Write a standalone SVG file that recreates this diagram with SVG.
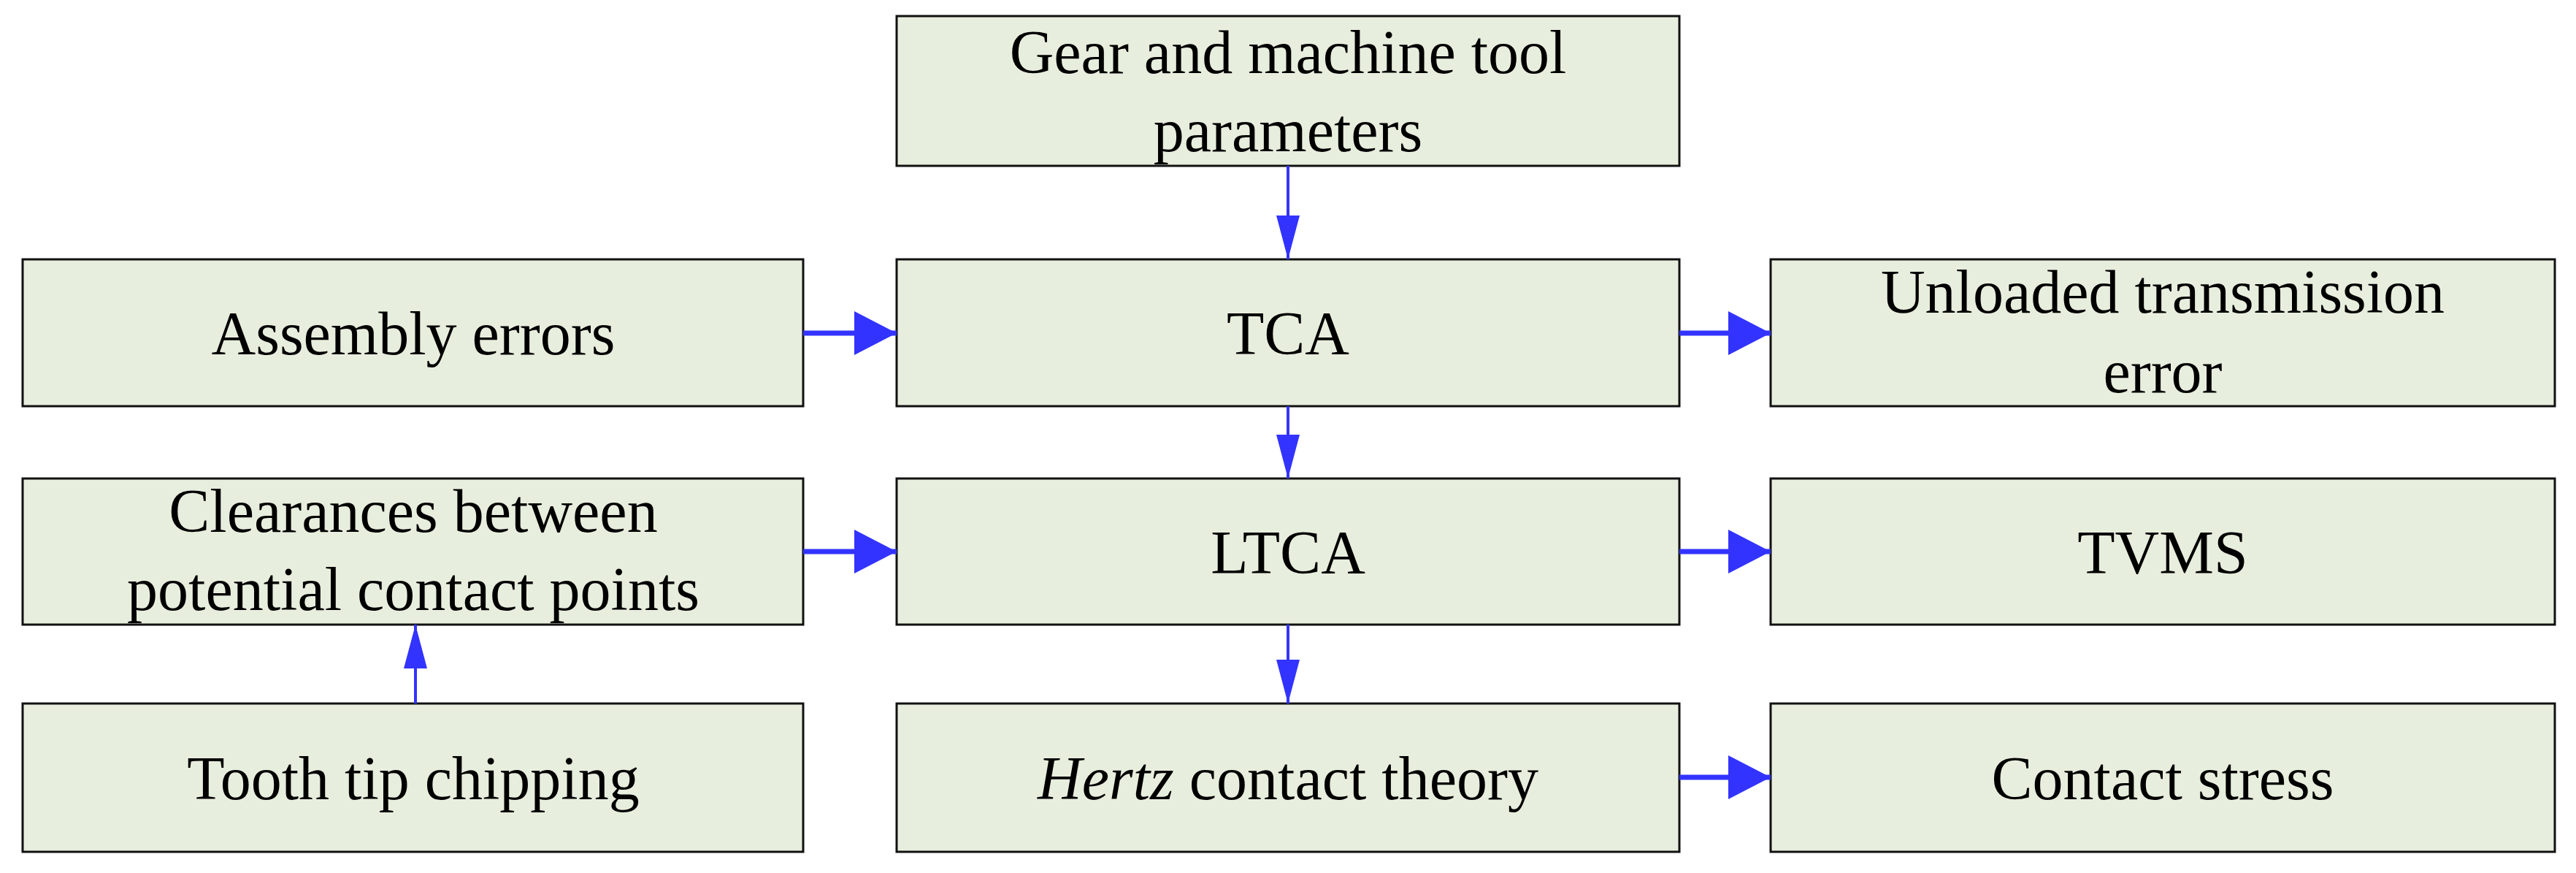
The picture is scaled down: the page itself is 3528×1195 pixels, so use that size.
<svg xmlns="http://www.w3.org/2000/svg" width="3528" height="1195" viewBox="0 0 3528 1195">
<style>
rect{fill:#e8eedd;stroke:#111;stroke-width:3}
text{font-family:"Liberation Serif","Times New Roman",serif;font-size:84px;text-anchor:middle;fill:#000}
.c line{stroke:#3333ff}
.h{stroke-width:7}
.v{stroke-width:4}
</style>
<defs>
<marker id="ah" markerWidth="60" markerHeight="60" refX="58" refY="30" orient="auto" markerUnits="userSpaceOnUse"><path d="M0,0 L58,30 L0,60 Z" fill="#3333ff"/></marker>
<marker id="av" markerWidth="60" markerHeight="36" refX="60" refY="18" orient="auto" markerUnits="userSpaceOnUse"><path d="M0,2 L60,18 L0,34 Z" fill="#3333ff"/></marker>
</defs>
<g id="n1"><rect x="1228" y="22" width="1072" height="205"/><text x="1764" y="100">Gear and machine tool</text><text x="1764" y="207">parameters</text></g>
<g id="n2"><rect x="31" y="355" width="1069" height="201"/><text x="566" y="485">Assembly errors</text></g>
<g id="n3"><rect x="1228" y="355" width="1072" height="201"/><text x="1764" y="485">TCA</text></g>
<g id="n4"><rect x="2425" y="355" width="1074" height="201"/><text x="2962" y="428">Unloaded transmission</text><text x="2962" y="537">error</text></g>
<g id="n5"><rect x="31" y="655" width="1069" height="200"/><text x="566" y="728">Clearances between</text><text x="566" y="835">potential contact points</text></g>
<g id="n6"><rect x="1228" y="655" width="1072" height="200"/><text x="1764" y="785">LTCA</text></g>
<g id="n7"><rect x="2425" y="655" width="1074" height="200"/><text x="2962" y="785">TVMS</text></g>
<g id="n8"><rect x="31" y="963" width="1069" height="203"/><text x="566" y="1094">Tooth tip chipping</text></g>
<g id="n9"><rect x="1228" y="963" width="1072" height="203"/><text x="1764" y="1094"><tspan font-style="italic">Hertz</tspan> contact theory</text></g>
<g id="n10"><rect x="2425" y="963" width="1074" height="203"/><text x="2962" y="1094">Contact stress</text></g>
<g class="c" id="connectors">
<line class="v" x1="1764" y1="227" x2="1764" y2="355" marker-end="url(#av)"/>
<line class="v" x1="1764" y1="556" x2="1764" y2="655" marker-end="url(#av)"/>
<line class="v" x1="1764" y1="855" x2="1764" y2="963" marker-end="url(#av)"/>
<line class="v" x1="569" y1="963" x2="569" y2="855" marker-end="url(#av)"/>
<line class="h" x1="1100" y1="456" x2="1228" y2="456" marker-end="url(#ah)"/>
<line class="h" x1="2300" y1="456" x2="2425" y2="456" marker-end="url(#ah)"/>
<line class="h" x1="1100" y1="755" x2="1228" y2="755" marker-end="url(#ah)"/>
<line class="h" x1="2300" y1="755" x2="2425" y2="755" marker-end="url(#ah)"/>
<line class="h" x1="2300" y1="1064" x2="2425" y2="1064" marker-end="url(#ah)"/>
</g>
</svg>
